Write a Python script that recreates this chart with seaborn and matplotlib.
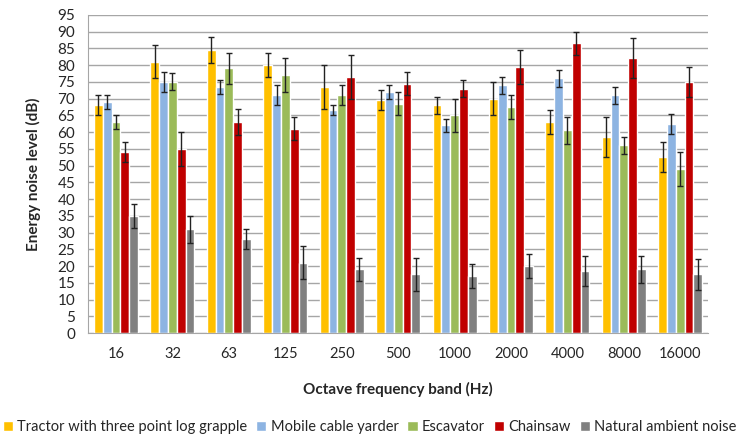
import matplotlib
matplotlib.use('Agg')
import matplotlib.pyplot as plt
import pandas as pd
import seaborn as sns
import numpy as np

bands = ['16', '32', '63', '125', '250', '500', '1000', '2000', '4000', '8000', '16000']
machines = ['Tractor with three point log grapple', 'Mobile cable yarder', 'Escavator',
            'Chainsaw', 'Natural ambient noise']

tractor = [68, 81, 84.5, 80, 73.5, 69.5, 68, 70, 63, 58.5, 52.5]
yarder = [69, 75, 73.5, 71, 66.5, 72, 62, 74, 76, 71, 62.5]
escavator = [63, 75, 79, 77, 71, 68.5, 65, 67.5, 60.5, 56, 49]
chainsaw = [54, 55, 63, 61, 76.5, 74.5, 73, 79.5, 86.5, 82, 75]
ambient = [35, 31, 28, 21, 19, 17.5, 17, 20, 18.5, 19, 17.5]

tractor_err = [3, 5, 4, 3.5, 6.5, 3, 2.5, 5, 3.5, 6, 4.5]
yarder_err = [2, 3, 2, 3, 1.5, 2, 2, 2.5, 2.5, 2.5, 3]
escavator_err = [2, 2.5, 4.5, 5, 3, 3.5, 5, 3.5, 4, 2.5, 5]
chainsaw_err = [3, 5, 4, 3.5, 6.5, 3.5, 2.5, 5, 3.5, 6, 4.5]
ambient_err = [3.5, 4, 3, 5, 3.5, 5, 3.5, 3.5, 4.5, 4, 4.5]

colors = ['#FFC000', '#8DB4E2', '#9BBB59', '#C00000', '#808080']

values = [tractor, yarder, escavator, chainsaw, ambient]
errors = [tractor_err, yarder_err, escavator_err, chainsaw_err, ambient_err]

rows = []
for m, vals, errs in zip(machines, values, errors):
    for b, v, e in zip(bands, vals, errs):
        rows.append({'band': b, 'machine': m, 'level': v, 'err': e})
df = pd.DataFrame(rows)

sns.set_style('white')
plt.rcParams['font.family'] = ['Lato', 'DejaVu Sans']

fig = plt.figure(figsize=(7.38, 4.36), dpi=100)
ax = fig.add_axes([0.119, 0.236, 0.841, 0.730])

sns.barplot(data=df, x='band', y='level', hue='machine', order=bands,
            hue_order=machines, palette=colors, errorbar=None, width=0.78,
            saturation=1, ax=ax, zorder=2)

# error bars on each bar
for cont, errs in zip(ax.containers, errors):
    xs = [p.get_x() + p.get_width() / 2 for p in cont.patches]
    hs = [p.get_height() for p in cont.patches]
    ax.errorbar(xs, hs, yerr=errs, fmt='none', ecolor='#222222',
                elinewidth=1, capsize=2.2, capthick=1, zorder=3)

ax.set_ylim(0, 95)
ax.set_yticks(np.arange(0, 96, 5))
ax.set_xlim(-0.5, len(bands) - 0.5)
ax.yaxis.grid(True, color='#a6a6a6', linewidth=1, zorder=0)
ax.set_axisbelow(True)
for s in ['top', 'right']:
    ax.spines[s].set_visible(False)
for s in ['left', 'bottom']:
    ax.spines[s].set_color('#a6a6a6')
ax.tick_params(axis='y', length=4, color='#a6a6a6', labelsize=11, pad=5)
ax.tick_params(axis='x', length=0, labelsize=10.5, pad=10)
ax.set_xticks(np.arange(-0.5, len(bands), 1), minor=True)
ax.tick_params(axis='x', which='minor', length=4, color='#a6a6a6', direction='out')

ax.set_xlabel('Octave frequency band (Hz)', fontsize=11, fontweight='bold', labelpad=15)
ax.set_ylabel('Energy noise level (dB)', fontsize=11, fontweight='bold', labelpad=12)

handles, labels = ax.get_legend_handles_labels()
ax.legend(handles, labels, loc='center', bbox_to_anchor=(0.454, -0.295), ncol=5,
          frameon=False, fontsize=10.5, handlelength=0.7, handleheight=0.7,
          handletextpad=0.3, columnspacing=0.6)

fig.savefig('out.png', dpi=100)
